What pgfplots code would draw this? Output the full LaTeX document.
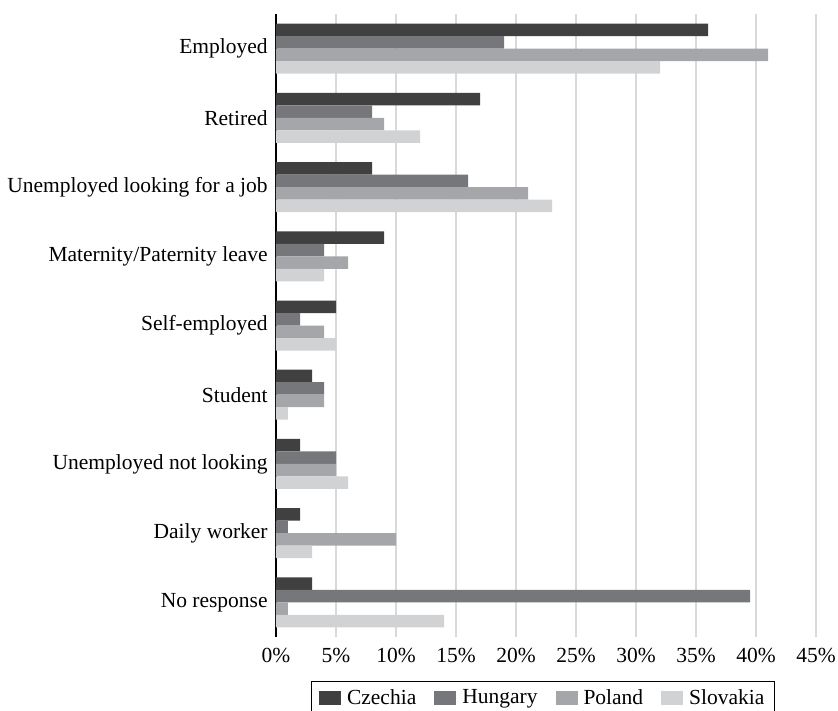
\documentclass[border=0pt]{standalone}
\usepackage{pgfplots}
\pgfplotsset{compat=1.18}
\usepackage{fontspec}
\setmainfont{Liberation Serif}
\definecolor{cz}{HTML}{404040}
\definecolor{hu}{HTML}{76777B}
\definecolor{pl}{HTML}{A5A6A9}
\definecolor{sk}{HTML}{D1D2D4}
\definecolor{gridc}{HTML}{D9D9D9}
\begin{document}
\fontsize{21.5}{25}\selectfont
\begin{tikzpicture}
\path[use as bounding box] (0,0) rectangle (838pt,710pt);
\begin{axis}[
  at={(276pt,73pt)}, anchor=south west,
  scale only axis, width=540pt, height=623pt,
  xbar, bar width=12.5pt,
  xmin=0, xmax=45, xtick={0,5,...,45},
  xticklabel={\pgfmathprintnumber{\tick}\%},
  /pgf/number format/assume math mode=true,
  ymin=-0.5, ymax=8.5, y dir=reverse,
  ytick={0,...,8},
  yticklabels={Employed,Retired,Unemployed looking for a job,Maternity/Paternity leave,Self-employed,Student,Unemployed not looking,Daily worker,No response},
  axis lines*=left,
  x axis line style={draw=none},
  y axis line style={black, line width=1.2pt},
  major tick length=0pt,
  xmajorgrids, ymajorgrids=false,
  grid style={gridc, line width=1.3pt},
  tick label style={font=\fontsize{21.5}{25}\selectfont},
  xticklabel style={yshift=-4pt},
  yticklabel style={xshift=-1pt},
  legend columns=4,
  legend style={at={(0.494,-0.0706)}, anchor=north, draw=black, line width=0.8pt,
    font=\fontsize{21.5}{25}\selectfont, inner xsep=8pt, inner ysep=6pt,
    /tikz/every even column/.append style={column sep=16pt}},
  legend image code/.code={\fill[#1] (0pt,-7pt) rectangle (22pt,7pt); \path (26pt,0pt);},
]
\addplot[fill=cz, draw=none, bar shift=18.75pt] coordinates {(36,0) (17,1) (8,2) (9,3) (5,4) (3,5) (2,6) (2,7) (3,8)};
\addplot[fill=hu, draw=none, bar shift=6.25pt] coordinates {(19,0) (8,1) (16,2) (4,3) (2,4) (4,5) (5,6) (1,7) (39.5,8)};
\addplot[fill=pl, draw=none, bar shift=-6.25pt] coordinates {(41,0) (9,1) (21,2) (6,3) (4,4) (4,5) (5,6) (10,7) (1,8)};
\addplot[fill=sk, draw=none, bar shift=-18.75pt] coordinates {(32,0) (12,1) (23,2) (4,3) (5,4) (1,5) (6,6) (3,7) (14,8)};
\legend{Czechia,Hungary,Poland,Slovakia}
\end{axis}
\end{tikzpicture}
\end{document}
